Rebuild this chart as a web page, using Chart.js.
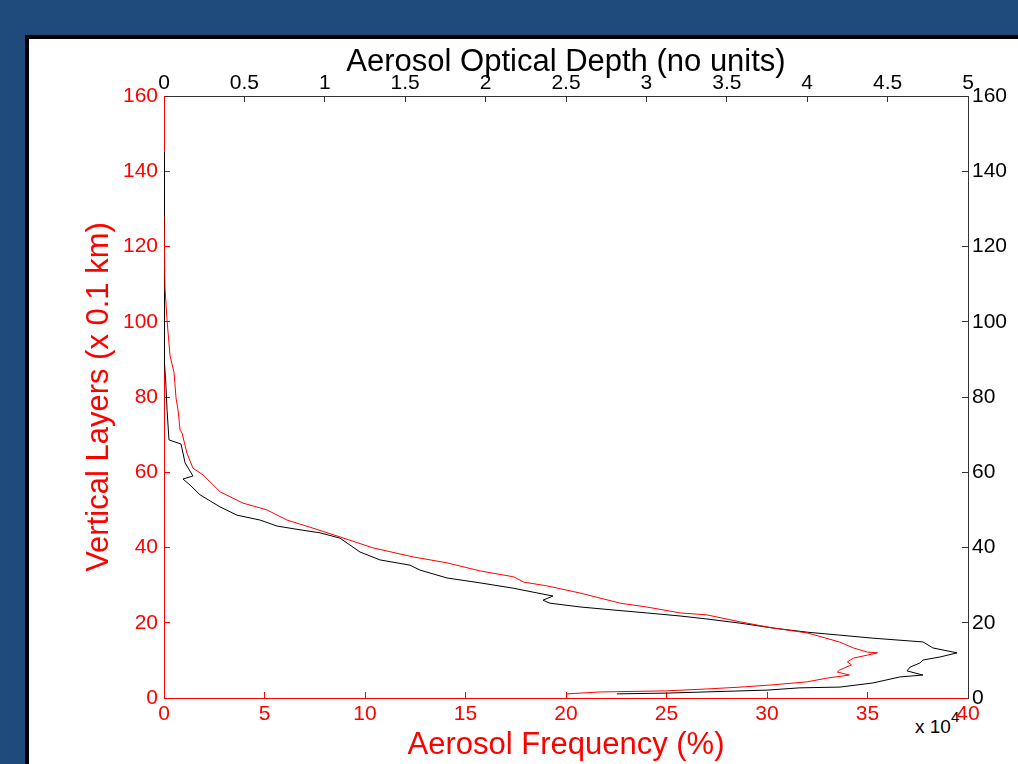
<!DOCTYPE html>
<html>
<head>
<meta charset="utf-8">
<script src="https://cdn.jsdelivr.net/npm/chart.js@4"></script>
<style>
  body { margin: 0; background: #1f4a7c; width: 1018px; height: 764px; overflow: hidden; position: relative; font-family: "Liberation Sans", Arial, sans-serif; }
  #panel { position: absolute; left: 25px; top: 35px; width: 1100px; height: 800px; background: #fff; border: 4px solid #000; }
  #scale { position: absolute; left: 915px; top: 712px; font-size: 19px; color: #000; }
  #scale sup { font-size: 15px; position: relative; top: -4px; }
  canvas { position: absolute; left: 0; top: 0; }
</style>
</head>
<body>
<div id="panel"></div>
<div id="scale">x 10<sup>4</sup></div>
<canvas id="myChart" width="1018" height="764"></canvas>
<script>
// red profile: aerosol frequency (%) against vertical layer
const freqLayer = [128, 109, 100.5, 91, 86.5, 79.7, 76.5, 71.2, 70.4, 65.1, 61.1, 59.3, 54.8, 51.8, 50, 47.3, 45.4, 42.8, 39.9, 37.5, 35.9, 33.8, 32.2, 30.8, 29.8, 27.9, 25.2, 24.2, 22.6, 22.1, 20.2, 18.6, 17.3, 14.9, 13.3, 12.2, 12, 11.4, 10.6, 9.6, 8.8, 7.4, 6.9, 6.1, 5.3, 4.3, 3.5, 2.9, 2.4, 1.9, 1.6, 1.1];
const freqValue = [0, 0.05, 0.15, 0.3, 0.5, 0.6, 0.7, 0.8, 0.9, 1.14, 1.44, 1.94, 2.79, 3.93, 5.12, 6.12, 7.26, 8.76, 10.4, 12.4, 14.1, 15.7, 17.4, 17.9, 19.05, 20.7, 22.7, 24.0, 25.7, 27.0, 28.7, 30.3, 32.0, 33.6, 34.3, 35.0, 35.5, 35.0, 34.3, 34.0, 34.2, 33.6, 33.5, 34.1, 33.0, 32.0, 30.3, 28.7, 27.0, 25.0, 21.7, 20.05];

// black profile: aerosol optical depth against vertical layer
const aodLayer = [145, 97.8, 89, 83.2, 76.5, 68.6, 67.5, 62.5, 59, 58.2, 56.6, 54, 50.8, 48.6, 47.3, 45.7, 44.7, 43.9, 42.5, 38.8, 36.7, 35.3, 34, 31.9, 30.6, 29.2, 27.4, 27.1, 26, 25.2, 24.2, 23.4, 22.6, 21.8, 21, 19.9, 18.6, 17.5, 16.7, 15.9, 14.9, 13.3, 12, 10.9, 10.1, 9.3, 8.2, 7.2, 6.1, 5.6, 4, 2.9, 2.7, 2.1, 1.3, 1.1];
const aodValue = [0, 0, 0.006, 0.012, 0.019, 0.031, 0.106, 0.131, 0.18, 0.118, 0.162, 0.224, 0.348, 0.454, 0.597, 0.703, 0.846, 0.97, 1.094, 1.219, 1.343, 1.53, 1.592, 1.76, 1.965, 2.17, 2.382, 2.419, 2.357, 2.4, 2.587, 2.792, 3.004, 3.209, 3.377, 3.582, 3.787, 3.999, 4.204, 4.409, 4.72, 4.782, 4.932, 4.826, 4.72, 4.701, 4.639, 4.621, 4.72, 4.577, 4.409, 4.204, 3.955, 3.75, 3.128, 2.817];

const RED = '#ff0000';
const fontName = '"Liberation Sans", Arial, sans-serif';

// pin the plot box to where it sits in the picture
function sizeTo(px) {
	return function (scale) {
		if (scale.isHorizontal()) scale.height = px;
		else scale.width = px;
	};
}
// matlab style labels: 1 not 1.0
const plainLabel = v => String(Math.round(v * 10) / 10);

const data = {
	datasets: [
		{
			label: 'Aerosol Frequency',
			data: freqValue.map((v, i) => ({ x: v, y: freqLayer[i] })),
			xAxisID: 'x',
			yAxisID: 'y',
			borderColor: RED,
			borderWidth: 1,
			pointRadius: 0,
			showLine: true
		},
		{
			label: 'Aerosol Optical Depth',
			data: aodValue.map((v, i) => ({ x: v, y: aodLayer[i] })),
			xAxisID: 'x2',
			yAxisID: 'y',
			borderColor: '#000',
			borderWidth: 1,
			pointRadius: 0,
			showLine: true
		}
	]
};

const config = {
	type: 'scatter',
	data: data,
	options: {
		responsive: false,
		animation: false,
		layout: { padding: 0 },
		plugins: { legend: { display: false }, tooltip: { enabled: false } },
		scales: {
			x: {
				type: 'linear', position: 'bottom', min: 0, max: 40,
				afterFit: sizeTo(66),
				border: { color: RED, width: 1 },
				grid: { drawOnChartArea: false, color: RED, tickLength: -6 },
				ticks: { stepSize: 5, autoSkip: false, maxRotation: 0, color: RED, padding: 10, callback: plainLabel, font: { family: fontName, size: 21 } },
				title: { display: true, text: 'Aerosol Frequency (%)', color: RED, padding: { top: 0, bottom: 0 }, font: { family: fontName, size: 31 } }
			},
			x2: {
				type: 'linear', position: 'top', min: 0, max: 5,
				afterFit: sizeTo(96),
				border: { color: '#333', width: 1 },
				grid: { drawOnChartArea: false, color: '#333', tickLength: -6 },
				ticks: { stepSize: 0.5, autoSkip: false, maxRotation: 0, color: '#000', padding: 6, callback: plainLabel, font: { family: fontName, size: 21 } },
				title: { display: true, text: 'Aerosol Optical Depth (no units)', color: '#000', padding: { top: 44, bottom: 0 }, font: { family: fontName, size: 31 } }
			},
			y: {
				type: 'linear', position: 'left', min: 0, max: 160,
				afterFit: sizeTo(164),
				border: { color: RED, width: 1 },
				grid: { drawOnChartArea: false, color: RED, tickLength: -6 },
				ticks: { stepSize: 20, autoSkip: false, color: RED, padding: 12, callback: plainLabel, font: { family: fontName, size: 21 } },
				title: { display: true, text: 'Vertical Layers (x 0.1 km)', color: RED, padding: { top: 81, bottom: 0 }, font: { family: fontName, size: 31 } }
			},
			y2: {
				type: 'linear', position: 'right', min: 0, max: 160,
				afterFit: sizeTo(50),
				border: { color: '#333', width: 1 },
				grid: { drawOnChartArea: false, color: '#333', tickLength: -6 },
				ticks: { stepSize: 20, autoSkip: false, color: '#000', padding: 10, callback: plainLabel, font: { family: fontName, size: 21 } }
			}
		}
	}
};

const myChart = new Chart(document.getElementById('myChart'), config);
</script>
</body>
</html>
